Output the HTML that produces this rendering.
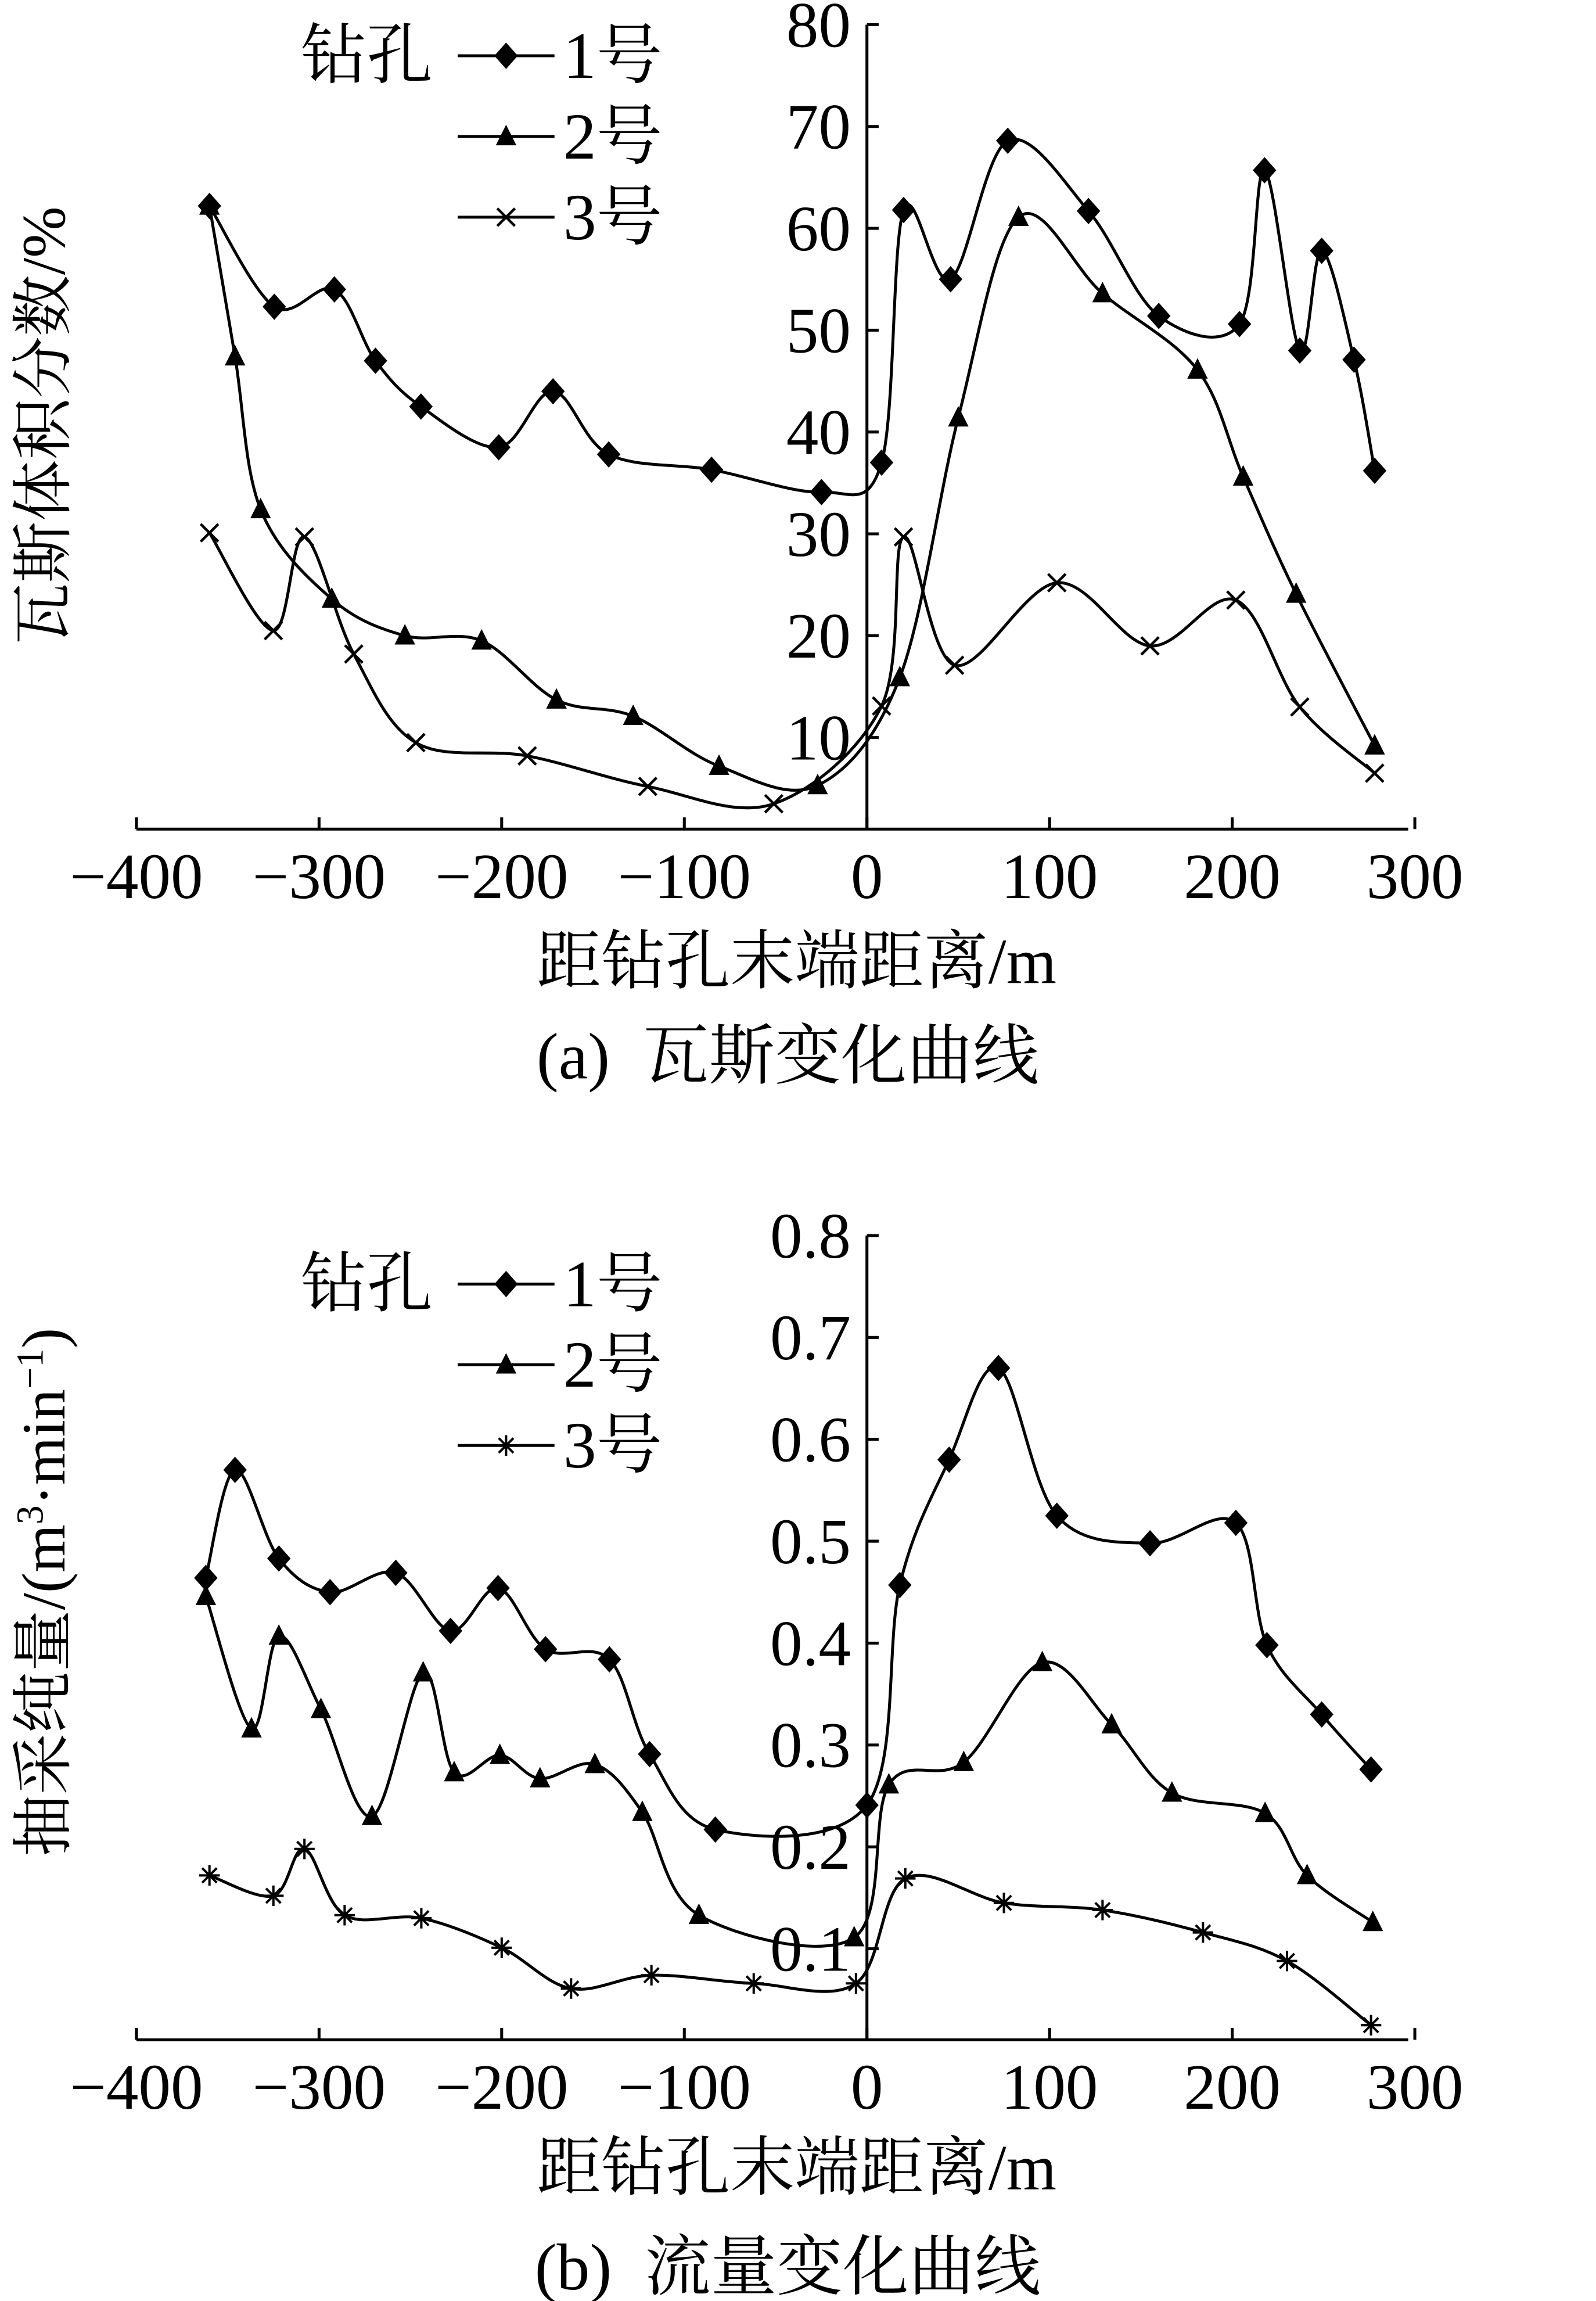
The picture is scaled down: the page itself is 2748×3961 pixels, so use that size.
<!DOCTYPE html>
<html><head><meta charset="utf-8">
<style>
html,body{margin:0;padding:0;background:#fff;}
svg{display:block;}
text{font-family:"Liberation Serif","Noto Serif CJK SC","Noto Sans CJK SC",serif;fill:#000;white-space:pre;}
</style></head>
<body>
<svg id="fig" width="2748" height="3961" viewBox="0 0 1088 1568" preserveAspectRatio="none" xmlns="http://www.w3.org/2000/svg">
<g id="chartA"></g>
<g id="chartB"></g>
</svg>
<script>
const xTicks=[-400,-300,-200,-100,0,100,200,300];
const aYTicks=[10,20,30,40,50,60,70,80];
const bYTicks=[0.1,0.2,0.3,0.4,0.5,0.6,0.7,0.8];
const a1x=[-360,-324.5,-291.6,-269.1,-244.2,-201.6,-171.9,-141.4,-85.1,-24.9,8,20.1,45.8,77.1,121.3,159.8,204,217.7,237,249,266.7,278];
const a1y=[62.2,52.3,54.0,47.0,42.5,38.5,44.0,37.8,36.3,34.1,37.0,61.8,55.0,68.6,61.7,51.4,50.6,65.7,48.0,57.8,47.1,36.2];
const a2x=[-360,-346,-332,-293,-253,-211,-170,-128,-81,-27,18,50,83,129,181,206,235,278];
const a2y=[62.2,47.4,32.4,23.6,20.0,19.5,13.7,12.1,7.2,5.3,15.9,41.4,61.1,53.6,46.1,35.6,24.1,9.2];
const a3x=[-360,-325,-308,-281,-247,-186,-120,-51,8,20,48,104,155,202,237,278];
const a3y=[30.1,20.5,29.7,18.2,9.5,8.2,5.2,3.5,13.1,29.7,17.1,25.2,19.0,23.5,13.0,6.5];
const b1x=[-362,-346,-322,-294,-258,-228,-202,-176,-141,-119,-83,0,18,45,72,104,155,202,219,249,276];
const b1y=[0.464,0.570,0.483,0.450,0.469,0.412,0.454,0.394,0.384,0.291,0.217,0.241,0.457,0.580,0.670,0.525,0.498,0.518,0.398,0.330,0.276];
const b2x=[-362,-337,-322,-299,-271,-243,-226,-201,-179,-149,-123,-92,-7,12,53,96,134,167,218,241,277];
const b2y=[0.446,0.316,0.407,0.335,0.230,0.371,0.273,0.290,0.267,0.281,0.234,0.133,0.111,0.261,0.283,0.381,0.320,0.253,0.233,0.172,0.126];
const b3x=[-360,-325,-308,-286,-244,-200,-162,-118,-62,-6,21,75,129,184,230,276];
const b3y=[0.172,0.152,0.198,0.133,0.130,0.101,0.061,0.074,0.066,0.066,0.169,0.145,0.138,0.116,0.088,0.025];

const NS="http://www.w3.org/2000/svg";
function mk(parent,tag,attrs,txt){const e=document.createElementNS(NS,tag);for(const k in attrs)e.setAttribute(k,attrs[k]);if(txt!==undefined)e.textContent=txt;parent.appendChild(e);return e;}
const xs=v=>591+v*1.245;
function smooth(pts){let d=`M${pts[0][0]},${pts[0][1]}`;for(let i=0;i<pts.length-1;i++){const p0=pts[Math.max(0,i-1)],p1=pts[i],p2=pts[i+1],p3=pts[Math.min(pts.length-1,i+2)];const t=6;d+=` C${p1[0]+(p2[0]-p0[0])/t},${p1[1]+(p2[1]-p0[1])/t} ${p2[0]-(p3[0]-p1[0])/t},${p2[1]-(p3[1]-p1[1])/t} ${p2[0]},${p2[1]}`;}return d;}
function marker(g,type,x,y){
 if(type==='d'){mk(g,'polygon',{points:`${x},${y-9} ${x+8},${y} ${x},${y+9} ${x-8},${y}`,fill:'#000'});}
 else if(type==='t'){mk(g,'polygon',{points:`${x},${y-8} ${x+7},${y+6} ${x-7},${y+6}`,fill:'#000'});}
 else if(type==='x'){mk(g,'path',{d:`M${x-6},${y-6}L${x+6},${y+6}M${x-6},${y+6}L${x+6},${y-6}`,stroke:'#000','stroke-width':1.8});}
 else {mk(g,'path',{d:`M${x-7},${y}L${x+7},${y}M${x},${y-7}L${x},${y+7}M${x-5},${y-5}L${x+5},${y+5}M${x-5},${y+5}L${x+5},${y-5}`,stroke:'#000','stroke-width':1.6});}
}
function chart(gid,axisY,ys,yTicks,fmt,series,legendY,ylabel,caption,xlabY,capY){
 const g=document.getElementById(gid);
 const ax=mk(g,'g',{});
 
 mk(ax,'line',{x1:93,y1:axisY,x2:960,y2:axisY,stroke:'#000','stroke-width':2});
 xTicks.forEach(v=>{mk(ax,'line',{x1:xs(v),y1:axisY,x2:xs(v),y2:axisY-8,stroke:'#000','stroke-width':2});
  const t=mk(ax,'text',{x:xs(v),y:axisY+47,'text-anchor':'middle','font-size':44},v<0?'\u2212'+Math.abs(v):String(v));
  });
 const ay=mk(g,'g',{});
 
 const top=ys(yTicks[yTicks.length-1]);
 mk(ay,'line',{x1:591,y1:top,x2:591,y2:axisY,stroke:'#000','stroke-width':2});
 yTicks.forEach(v=>{mk(ay,'line',{x1:591,y1:ys(v),x2:599,y2:ys(v),stroke:'#000','stroke-width':2});
  const t=mk(ay,'text',{x:580,y:ys(v)+15,'text-anchor':'end','font-size':44},fmt(v));
  });
 series.forEach(s=>{
  const sg=mk(g,'g',{});
  
  const pts=s.x.map((v,i)=>[xs(v),ys(s.y[i])]);
  mk(sg,'path',{d:smooth(pts),fill:'none',stroke:'#000','stroke-width':2});
  pts.forEach(p=>marker(sg,s.m,p[0],p[1]));
 });
 const lg=mk(g,'g',{});
 
 mk(lg,'text',{x:205,y:legendY+15,'font-size':45},'钻孔');
 series.forEach((s,i)=>{const y=legendY+i*55;
  const e=mk(lg,'g',{});
  
  mk(e,'line',{x1:312,y1:y,x2:378,y2:y,stroke:'#000','stroke-width':2});marker(e,s.m,345,y);
  mk(e,'text',{x:384,y:y+15,'font-size':45},s.label);});
 const yl=mk(g,'text',{x:0,y:0,'font-size':42,'text-anchor':'middle',transform:`translate(44,${ylabel[1]}) rotate(-90)`},'');
 
 ylabel[0](yl);
 const xl=mk(g,'text',{x:543,y:xlabY,'font-size':44,'text-anchor':'middle'},'距钻孔末端距离/m');
 
 const cp=mk(g,'text',{x:537,y:capY,'font-size':45,'text-anchor':'middle'},caption);
 
}
chart('chartA',565,v=>572-v*6.94,aYTicks,v=>String(v),
 [{name:'series-hole-1',x:a1x,y:a1y,m:'d',label:'1号'},{name:'series-hole-2',x:a2x,y:a2y,m:'t',label:'2号'},{name:'series-hole-3',x:a3x,y:a3y,m:'x',label:'3号'}],
 38,[t=>{t.textContent='瓦斯体积分数/%';},290],'(a)  瓦斯变化曲线',670,735);
chart('chartB',1390,v=>1397.4-v*694.3,bYTicks,v=>v.toFixed(1),
 [{name:'series-hole-1',x:b1x,y:b1y,m:'d',label:'1号'},{name:'series-hole-2',x:b2x,y:b2y,m:'t',label:'2号'},{name:'series-hole-3',x:b3x,y:b3y,m:'s',label:'3号'}],
 875,[t=>{t.appendChild(document.createTextNode('抽采纯量/(m'));mk(t,'tspan',{'font-size':26,dy:-15},'3');mk(t,'tspan',{'font-size':42,dy:15},'·min');mk(t,'tspan',{'font-size':26,dy:-15},'−1');mk(t,'tspan',{'font-size':42,dy:15},')');},1085],'(b)  流量变化曲线',1492,1560);
</script>
</body></html>
